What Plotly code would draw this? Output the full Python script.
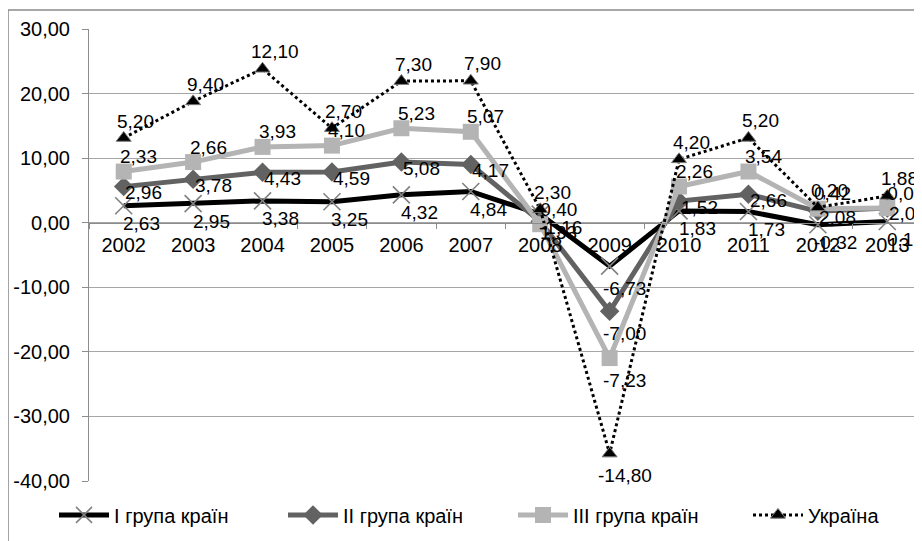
import numpy as np
import plotly.graph_objects as go

years = ["2002", "2003", "2004", "2005", "2006", "2007", "2008", "2009", "2010", "2011", "2012", "2013"]
group_1 = [2.63, 2.95, 3.38, 3.25, 4.32, 4.84, 1.33, -6.73, 1.83, 1.73, -0.32, 0.19]
group_2 = [2.96, 3.78, 4.43, 4.59, 5.08, 4.17, -1.16, -7.00, 1.52, 2.66, 2.08, 2.09]
group_3 = [2.33, 2.66, 3.93, 4.10, 5.23, 5.07, -0.40, -7.23, 2.26, 3.54, 0.42, -0.01]
ukraine = [5.20, 9.40, 12.10, 2.70, 7.30, 7.90, 2.30, -14.80, 4.20, 5.20, 0.20, 1.88]
series_names = ["I група країн", "II група країн", "III група країн", "Україна"]
y_ticks = [-40, -30, -20, -10, 0, 10, 20, 30]
y_tick_labels = ["-40,00", "-30,00", "-20,00", "-10,00", "0,00", "10,00", "20,00", "30,00"]

FONT = "Liberation Sans, Arial, sans-serif"

# stacked line chart (values are stacked, labels show own values)
raw = [group_1, group_2, group_3, ukraine]
stack = np.cumsum(np.array(raw), axis=0)

styles = [
    dict(line=dict(color="#000000", width=5),
         marker=dict(symbol="x-thin-open", size=17, color="#808080", line=dict(color="#808080", width=1.6)),
         dx=18, dy=-18, legend_x=-0.042),
    dict(line=dict(color="#626262", width=5),
         marker=dict(symbol="diamond", size=15, color="#626262"),
         dx=20, dy=-6, legend_x=0.2329),
    dict(line=dict(color="#b4b4b4", width=5),
         marker=dict(symbol="square", size=16, color="#b4b4b4"),
         dx=15, dy=15, legend_x=0.5090),
    dict(line=dict(color="#000000", width=3, dash="dot"),
         marker=dict(symbol="triangle-up", size=13, color="#000000", line=dict(color="#777777", width=1)),
         dx=12, dy=17, legend_x=0.7911),
]

fig = go.Figure()
annotations = []
legend_layouts = {}
for i, (name, st) in enumerate(zip(series_names, styles)):
    lg = "legend" if i == 0 else f"legend{i + 1}"
    fig.add_trace(go.Scatter(
        x=years, y=stack[i], name=name, mode="lines+markers",
        line=st["line"], marker=st["marker"], cliponaxis=False, legend=lg,
    ))
    legend_layouts[lg] = dict(
        orientation="h", x=st["legend_x"], xanchor="left", y=-0.075, yanchor="middle",
        font=dict(family=FONT, size=20, color="#000000"),
        itemwidth=50, bgcolor="rgba(0,0,0,0)")
    for j, (yv, v) in enumerate(zip(stack[i], raw[i])):
        neg = v < -5
        annotations.append(dict(
            x=j, y=yv, xref="x", yref="y",
            text=f"{v:.2f}".replace(".", ","),
            showarrow=False, xanchor="center", yanchor="middle",
            xshift=15 if neg else st["dx"], yshift=-22 if neg else st["dy"],
            font=dict(family=FONT, size=19, color="#000000"),
        ))

# chart border
fig.add_shape(type="rect", xref="paper", yref="paper",
              x0=-0.0972, x1=1.02, y0=-0.3, y1=1.042,
              line=dict(color="#8c8c8c", width=1.5), layer="below")

# page body has an 8px margin, so the figure is 8px smaller than the window
fig.update_layout(
    width=914, height=533,
    margin=dict(l=81, r=0, t=21, b=60, autoexpand=False),
    paper_bgcolor="white", plot_bgcolor="white",
    separators=", ",
    font=dict(family=FONT, size=20, color="#000000"),
    showlegend=True,
    annotations=annotations,
    xaxis=dict(type="category", categoryorder="array", categoryarray=years,
               range=[-0.5, 11.5], anchor="free", position=40 / 70,
               showline=True, linecolor="#8c8c8c", linewidth=1,
               ticks="outside", tickson="boundaries", ticklen=5, tickcolor="#8c8c8c",
               showgrid=False, ticklabelstandoff=4,
               tickfont=dict(family=FONT, size=20, color="#000000")),
    yaxis=dict(range=[-40, 30], tickvals=y_ticks, ticktext=y_tick_labels,
               showgrid=True, gridcolor="#a6a6a6", gridwidth=1,
               zeroline=False, showline=True, linecolor="#8c8c8c", linewidth=1,
               ticks="outside", ticklen=6, tickcolor="#8c8c8c", ticklabelstandoff=8,
               tickfont=dict(family=FONT, size=20, color="#000000")),
    **legend_layouts,
)

fig.write_html("out.html")
